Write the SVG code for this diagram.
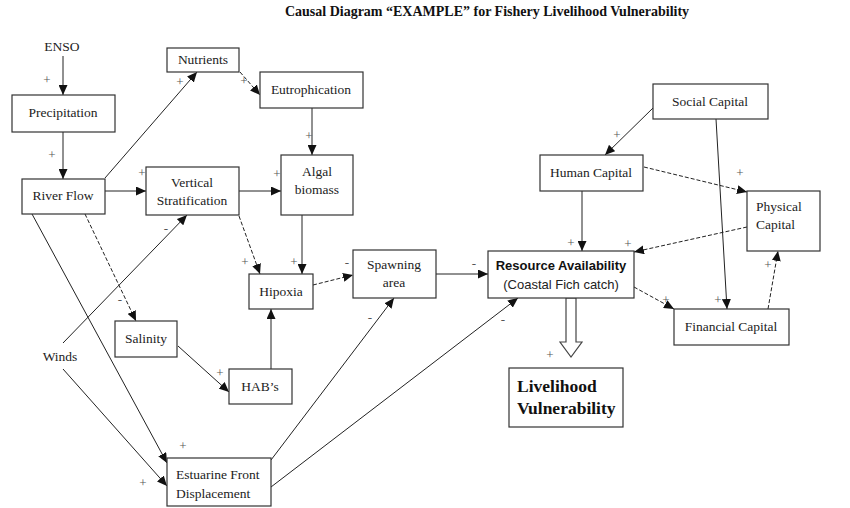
<svg xmlns="http://www.w3.org/2000/svg" width="850" height="508" viewBox="0 0 850 508">
<style>
.box{fill:#fff;stroke:#333;stroke-width:1.2}
.t{font-family:"Liberation Serif","Times New Roman",serif;font-size:13.5px;fill:#222;text-anchor:middle}
.tl{font-family:"Liberation Serif","Times New Roman",serif;font-size:13.5px;fill:#222}
.s{font-family:"Liberation Serif","Times New Roman",serif;font-size:13px;fill:#555;text-anchor:middle}
.c{fill:none;stroke:#222;stroke-width:1}
.d{fill:none;stroke:#222;stroke-width:1;stroke-dasharray:4 2}
</style>
<defs>
<marker id="ah" markerUnits="userSpaceOnUse" markerWidth="11" markerHeight="9" refX="10" refY="4.5" orient="auto"><path d="M0,0 L10,4.5 L0,9 z" fill="#111"/></marker>
</defs>
<rect width="850" height="508" fill="#fff"/>
<text x="487" y="16" style="font-family:'Liberation Serif','Times New Roman',serif;font-size:14px;font-weight:bold;text-anchor:middle;fill:#111">Causal Diagram “EXAMPLE”  for Fishery Livelihood Vulnerability</text>

<g id="connectors">
<line class="c" x1="63" y1="56" x2="63" y2="95" marker-end="url(#ah)"/>
<line class="c" x1="63" y1="132" x2="63" y2="179" marker-end="url(#ah)"/>
<line class="c" x1="105" y1="178" x2="197" y2="72" marker-end="url(#ah)"/>
<line class="d" x1="240" y1="72" x2="260" y2="95" marker-end="url(#ah)"/>
<line class="c" x1="312" y1="108" x2="312" y2="155" marker-end="url(#ah)"/>
<line class="c" x1="105" y1="191" x2="146" y2="191" marker-end="url(#ah)"/>
<line class="c" x1="239" y1="191" x2="281" y2="191" marker-end="url(#ah)"/>
<line class="d" x1="239" y1="216" x2="260" y2="274" marker-end="url(#ah)"/>
<line class="c" x1="302" y1="215" x2="302" y2="274" marker-end="url(#ah)"/>
<line class="d" x1="313" y1="285" x2="353" y2="275" marker-end="url(#ah)"/>
<line class="c" x1="436" y1="274" x2="488" y2="274" marker-end="url(#ah)"/>
<line class="c" x1="271" y1="369" x2="271" y2="309" marker-end="url(#ah)"/>
<line class="c" x1="178" y1="346" x2="229" y2="392" marker-end="url(#ah)"/>
<line class="d" x1="85" y1="214" x2="136" y2="321" marker-end="url(#ah)"/>
<line class="c" x1="63" y1="343" x2="187" y2="215" marker-end="url(#ah)"/>
<line class="c" x1="32" y1="214" x2="167" y2="463" marker-end="url(#ah)"/>
<line class="c" x1="63" y1="369" x2="167" y2="486" marker-end="url(#ah)"/>
<line class="c" x1="271" y1="460" x2="394" y2="298" marker-end="url(#ah)"/>
<line class="c" x1="271" y1="487" x2="518" y2="298" marker-end="url(#ah)"/>
<line class="c" x1="653" y1="108" x2="605" y2="155" marker-end="url(#ah)"/>
<line class="c" x1="716" y1="119" x2="727" y2="309" marker-end="url(#ah)"/>
<line class="c" x1="582" y1="191" x2="582" y2="251" marker-end="url(#ah)"/>
<line class="d" x1="644" y1="167" x2="747" y2="192" marker-end="url(#ah)"/>
<line class="d" x1="747" y1="227" x2="634" y2="252" marker-end="url(#ah)"/>
<line class="d" x1="634" y1="287" x2="674" y2="309" marker-end="url(#ah)"/>
<line class="d" x1="768" y1="309" x2="778" y2="251" marker-end="url(#ah)"/>
<polygon points="566,298 576,298 576,342 582,342 571,357 560,342 566,342" fill="#fff" stroke="#444" stroke-width="1.2"/>
<text class="s" x="47" y="84">+</text>
<text class="s" x="52" y="159">+</text>
<text class="s" x="180" y="86">+</text>
<text class="s" x="244" y="85">+</text>
<text class="s" x="309" y="140">+</text>
<text class="s" x="142" y="177">+</text>
<text class="s" x="277" y="178">+</text>
<text class="s" x="245" y="266">+</text>
<text class="s" x="294" y="266">+</text>
<text class="s" x="347" y="267">-</text>
<text class="s" x="474" y="268">-</text>
<text class="s" x="220" y="377">+</text>
<text class="s" x="120" y="304">-</text>
<text class="s" x="166" y="233">-</text>
<text class="s" x="183" y="450">+</text>
<text class="s" x="143" y="487">+</text>
<text class="s" x="370" y="322">-</text>
<text class="s" x="503" y="324">-</text>
<text class="s" x="617" y="139">+</text>
<text class="s" x="718" y="304">+</text>
<text class="s" x="571" y="247">+</text>
<text class="s" x="740" y="177">+</text>
<text class="s" x="628" y="248">+</text>
<text class="s" x="666" y="304">+</text>
<text class="s" x="768" y="269">+</text>
<text class="s" x="550" y="359">+</text>
</g>

<g id="enso"><text class="t" x="62" y="51">ENSO</text></g>
<g id="winds"><text class="t" x="60" y="361">Winds</text></g>
<g id="precipitation"><rect class="box" x="12" y="95" width="103" height="37"/><text class="t" x="63" y="117">Precipitation</text></g>
<g id="river-flow"><rect class="box" x="22" y="179" width="83" height="35"/><text class="t" x="63" y="200">River Flow</text></g>
<g id="nutrients"><rect class="box" x="167" y="48" width="72" height="24"/><text class="t" x="203" y="64">Nutrients</text></g>
<g id="eutrophication"><rect class="box" x="260" y="72" width="103" height="36"/><text class="t" x="311" y="94">Eutrophication</text></g>
<g id="algal-biomass"><rect class="box" x="281" y="155" width="72" height="60"/><text class="t" x="317" y="176">Algal</text><text class="t" x="317" y="194">biomass</text></g>
<g id="vertical-stratification"><rect class="box" x="146" y="167" width="93" height="48"/><text class="t" x="192" y="187">Vertical</text><text class="t" x="192" y="205">Stratification</text></g>
<g id="hipoxia"><rect class="box" x="249" y="274" width="64" height="35"/><text class="t" x="281" y="296">Hipoxia</text></g>
<g id="spawning-area"><rect class="box" x="353" y="250" width="83" height="48"/><text class="t" x="394" y="269">Spawning</text><text class="t" x="394" y="287">area</text></g>
<g id="salinity"><rect class="box" x="115" y="321" width="62" height="36"/><text class="t" x="146" y="343">Salinity</text></g>
<g id="habs"><rect class="box" x="229" y="369" width="63" height="35"/><text class="t" x="260" y="391">HAB’s</text></g>
<g id="estuarine-front"><rect class="box" x="167" y="458" width="104" height="48"/><text class="tl" x="176" y="479">Estuarine Front</text><text class="tl" x="176" y="498">Displacement</text></g>
<g id="resource-availability"><rect class="box" x="488" y="251" width="146" height="47"/><text x="561" y="270" style="font-family:'Liberation Sans',Arial,sans-serif;font-size:13px;font-weight:bold;text-anchor:middle;fill:#111">Resource Availability</text><text x="561" y="289" style="font-family:'Liberation Sans',Arial,sans-serif;font-size:13px;text-anchor:middle;fill:#222">(Coastal Fich catch)</text></g>
<g id="livelihood-vulnerability"><rect class="box" x="509" y="368" width="114" height="59"/><text x="517" y="392" style="font-family:'Liberation Serif','Times New Roman',serif;font-size:17.5px;font-weight:bold;fill:#111">Livelihood</text><text x="517" y="414" style="font-family:'Liberation Serif','Times New Roman',serif;font-size:17.5px;font-weight:bold;fill:#111">Vulnerability</text></g>
<g id="social-capital"><rect class="box" x="653" y="84" width="115" height="35"/><text class="t" x="710" y="106">Social Capital</text></g>
<g id="human-capital"><rect class="box" x="540" y="155" width="103" height="36"/><text class="t" x="591" y="177">Human Capital</text></g>
<g id="physical-capital"><rect class="box" x="747" y="191" width="73" height="60"/><text class="tl" x="756" y="211">Physical</text><text class="tl" x="756" y="229">Capital</text></g>
<g id="financial-capital"><rect class="box" x="674" y="309" width="115" height="36"/><text class="t" x="731" y="331">Financial Capital</text></g>
</svg>
